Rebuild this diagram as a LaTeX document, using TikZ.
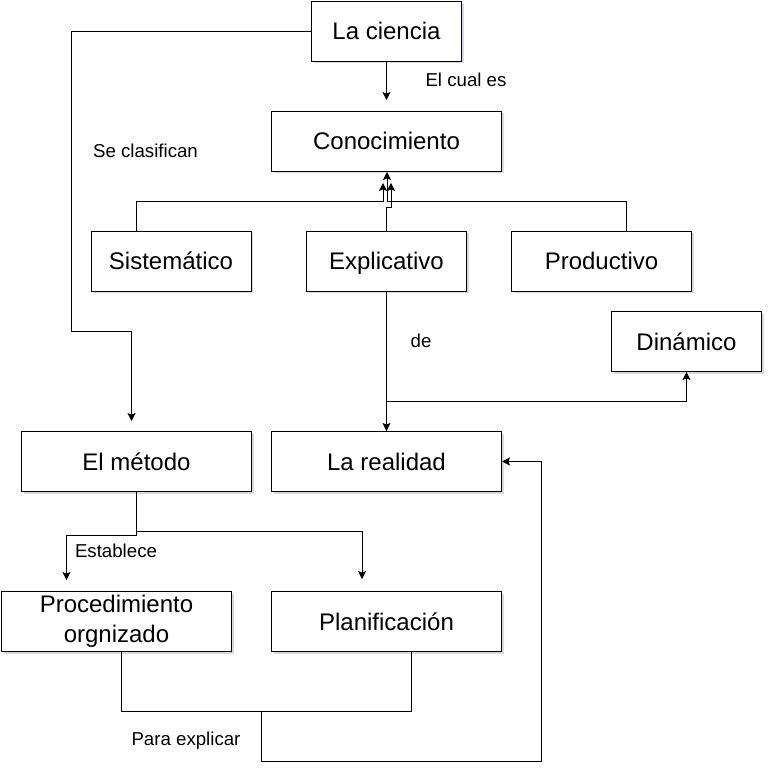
\documentclass[tikz,border=0pt]{standalone}
\usepackage{fontspec}
\setmainfont{Liberation Sans}
\usetikzlibrary{arrows.meta,shadows}
\tikzset{
  box/.style={draw=black, line width=0.75pt, fill=white, minimum height=45pt, inner sep=0pt,
    align=center, font=\fontsize{18}{22.5}\selectfont,
    drop shadow={shadow xshift=1.5pt, shadow yshift=-1.5pt, fill=blue!30!black, opacity=0.15}},
  one/.style={text height=13pt, text depth=0pt},
  lbl/.style={font=\fontsize{14}{16}\selectfont, inner sep=0pt},
  conn/.style={draw=black, line width=0.75pt},
  arr/.style={conn, -{Stealth[length=6pt,width=6pt,inset=1.2pt]}}
}
\begin{document}
\begin{tikzpicture}[x=0.75pt,y=-0.75pt]
\useasboundingbox (0,0) rectangle (769,778);
% nodes
\node[box, one, minimum width=112.5pt] (cien) at (386.5,31) {La ciencia};
\node[box, one, minimum width=172.5pt] (con) at (386.5,141) {Conocimiento};
\node[box, one, minimum width=120pt] (sis) at (171,261) {Sistemático};
\node[box, one, minimum width=120pt] (exp) at (386.5,261) {Explicativo};
\node[box, one, minimum width=135pt] (pro) at (601.5,261) {Productivo};
\node[box, one, minimum width=112.5pt] (din) at (686.5,341.5) {Dinámico};
\node[box, one, minimum width=172.5pt] (met) at (136.5,461.5) {El método};
\node[box, one, minimum width=172.5pt] (rea) at (386.5,461.5) {La realidad};
\node[box, minimum width=172.5pt] (proc) at (116.5,621.5) {Procedimiento\\orgnizado};
\node[box, one, minimum width=172.5pt] (pla) at (386.5,621.5) {Planificación};
% labels
\node[lbl] (l1) at (466,80) {El cual es};
\node[lbl] (l2) at (145.5,151) {Se clasifican};
\node[lbl] (l3) at (421,341) {de};
\node[lbl] (l4) at (116,551) {Establece};
\node[lbl] (l5) at (186,741) {Para explicar};
% coordinates
\coordinate (c1) at (386.5,100);
\coordinate (s0) at (136.5,231);
\coordinate (p0) at (626.5,231);
\coordinate (m1) at (131.5,421);
\coordinate (d0) at (386.5,401);
\coordinate (e1) at (66.5,580);
\coordinate (e2) at (362,579);
\coordinate (b0) at (261.5,711);
% connectors
\draw[arr] (cien.south) -- (c1);
\draw[arr] (cien.west) -- (71.5,31) -- (71.5,331) -- (131.5,331) -- (m1);
\draw[arr] (s0) -- (136.5,201) -- (383,201) -- (383,183);
\draw[arr] (p0) -- (626.5,201) -- (387,201) -- (387,172);
\draw[arr] (exp.north) -- (386.5,207) -- (391,207) -- (391,183);
\draw[arr] (exp.south) -- (rea.north);
\draw[arr] (d0) -- (686.5,401) -- (din.south);
\draw[arr] (met.south) -- (136.5,535) -- (66.5,535) -- (e1);
\draw[arr] (136.5,531) -- (362,531) -- (e2);
\draw[conn] (121.5,651.5) -- (121.5,711) -- (411.5,711) -- (411.5,651.5);
\draw[arr] (b0) -- (261.5,761) -- (541.5,761) -- (541.5,461.5) -- (rea.east);
\end{tikzpicture}
\end{document}
